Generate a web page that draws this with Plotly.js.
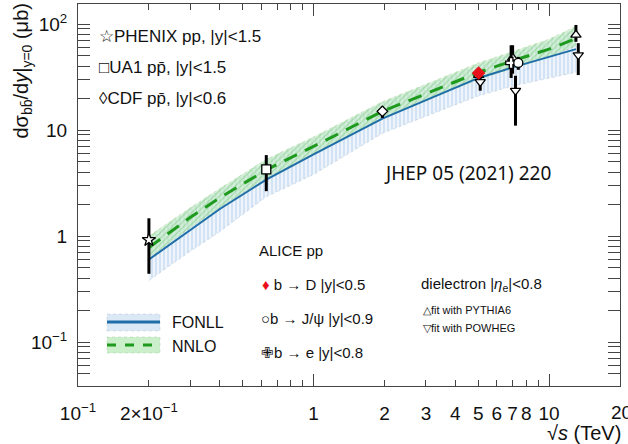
<!DOCTYPE html>
<html>
<head>
<meta charset="utf-8">
<script src="https://cdn.plot.ly/plotly-3.0.1.min.js"></script>
<style>html,body{margin:0;padding:0;background:#fff;}#chart{width:628px;height:444px;}</style>
</head>
<body>
<div id="chart"></div>
<script>
// ---- theory curves (sqrt(s) in TeV, dsigma/dy in microbarn) ----
const curveX   = [0.2, 0.3, 0.4, 0.63, 1.0, 1.96, 3.0, 5.02, 7.0, 10.0, 13.0];
const nnloC    = [0.78, 1.5, 2.3, 4.2, 7.0, 15.0, 22.0, 35.0, 45.0, 58.0, 73.0];
const nnloLo   = [0.62, 1.2, 1.85, 3.5, 5.9, 12.8, 19.0, 30.0, 38.0, 49.0, 62.0];
const nnloHi   = [1.0, 1.85, 2.8, 5.3, 8.6, 18.5, 27.0, 43.0, 55.0, 72.0, 95.0];
const fonllC   = [0.6, 1.15, 1.8, 3.4, 5.9, 12.8, 19.0, 31.0, 39.0, 49.0, 58.0];
const fonllLo  = [0.38, 0.72, 1.1, 2.35, 3.8, 9.3, 13.5, 21.0, 26.0, 31.0, 35.0];
const fonllHi  = [0.95, 1.8, 2.7, 5.1, 8.3, 18.0, 26.0, 41.0, 53.0, 69.0, 90.0];

// ---- measurements ----
const phenixX = [0.2],  phenixY = [0.92], phenixUp = [0.55], phenixDn = [0.48];
const ua1X = [0.63],    ua1Y = [4.25],    ua1Up = [1.55],    ua1Dn = [1.6];
const cdfX = [1.96],    cdfY = [15.0],    cdfUp = [1.7],     cdfDn = [2.0];
const bdX = [5.02],     bdY = [34.5],     bdUp = [2.5],      bdDn = [2.5];
const jpsiX = [7.4],    jpsiY = [43.0],   jpsiUp = [6.0],    jpsiDn = [6.0];
const beX = [6.9],      beY = [43.0],     beUp = [20.0],     beDn = [12.0];
const pythiaX = [5.02, 7.0, 13.0], pythiaY = [33.0, 48.0, 79.0], pythiaUp = [3.0, 15.0, 19.0], pythiaDn = [3.0, 14.0, 11.0];
const powhegX = [5.1, 7.2, 13.3],  powhegY = [28.5, 23.5, 51.0], powhegUp = [4.0, 9.0, 15.0],  powhegDn = [5.0, 12.5, 18.0];

// ---- axis ticks ----
const xTickVals = [0.1, 0.2, 1, 2, 3, 4, 5, 6, 7, 8, 10];
const xTickText = ['10<sup>−1</sup>', '2×10<sup>−1</sup>', '1', '2', '3', '4', '5', '6', '7', '8', '10'];
const xEdgeLabel = '20';
const xMinorVals = [0.3, 0.4, 0.5, 0.6, 0.7, 0.8, 0.9, 9, 20];
const xDecades = [0.1, 1, 10];
const yTickVals = [0.1, 1, 10, 100];
const yTickText = ['10<sup>−1</sup>', '1', '10', '10<sup>2</sup>'];
const yMinorVals = [0.05,0.06,0.07,0.08,0.09,0.2,0.3,0.4,0.5,0.6,0.7,0.8,0.9,2,3,4,5,6,7,8,9,20,30,40,50,60,70,80,90,200];

// pixel -> paper helpers (plot area 78..620 x, 4..386 y)
const P = x => (x - 78) / 542;
const Q = y => (386 - y) / 382;

function band(lo, hi, pat) {
  return [
    {x: curveX, y: lo, mode: 'lines', line: {width: 0.6, color: pat.edge, dash: 'dot'}, hoverinfo: 'skip', showlegend: false},
    {x: curveX, y: hi, mode: 'lines', fill: 'tonexty', fillcolor: pat.bg,
     fillpattern: {shape: pat.shape, fgcolor: pat.fg, bgcolor: pat.bg, size: 4, solidity: 0.3},
     line: {width: 0.6, color: pat.edge, dash: 'dot'}, hoverinfo: 'skip', showlegend: false}
  ];
}
function pts(x, y, up, dn, symbol, color, size) {
  return {x: x, y: y, mode: 'markers', type: 'scatter', showlegend: false, hoverinfo: 'skip',
    marker: {symbol: symbol, size: size, color: color, line: {color: color === 'white' ? 'black' : color, width: 1.3}},
    error_y: {type: 'data', symmetric: false, array: up, arrayminus: dn, thickness: 3, width: 0, color: 'black'}};
}

const data = [].concat(
  band(fonllLo, fonllHi, {shape: '|', fg: 'rgba(160,195,230,0.55)', bg: 'rgba(225,236,248,0.6)', edge: 'rgba(150,170,200,0.6)'}),
  band(nnloLo, nnloHi, {shape: '/', fg: 'rgba(120,200,120,0.5)', bg: 'rgba(190,235,190,0.55)', edge: 'rgba(140,190,140,0.6)'}),
  [
    {x: curveX, y: fonllC, mode: 'lines', line: {color: '#1f6ea8', width: 2}, hoverinfo: 'skip', showlegend: false},
    {x: curveX, y: nnloC, mode: 'lines', line: {color: '#1e9a1e', width: 3, dash: '14px,9px'}, hoverinfo: 'skip', showlegend: false},
    pts(phenixX, phenixY, phenixUp, phenixDn, 'star', 'white', 10),
    pts(ua1X, ua1Y, ua1Up, ua1Dn, 'square', 'white', 9),
    pts(cdfX, cdfY, cdfUp, cdfDn, 'diamond', 'white', 8),
    pts(pythiaX, pythiaY, pythiaUp, pythiaDn, 'triangle-up', 'white', 9),
    pts(powhegX, powhegY, powhegUp, powhegDn, 'triangle-down', 'white', 9),
    pts(beX, beY, beUp, beDn, 'cross', 'white', 9),
    pts(jpsiX, jpsiY, jpsiUp, jpsiDn, 'circle', 'white', 9),
    pts(bdX, bdY, bdUp, bdDn, 'diamond', '#e8101a', 9),
    {x: [1], y: [1], xaxis: 'x2', yaxis: 'y', mode: 'markers', marker: {opacity: 0}, hoverinfo: 'skip', showlegend: false}
  ]
);

const axFont = {family: 'Liberation Sans, Arial, sans-serif', size: 19, color: '#111'};
const xr = [Math.log10(0.1), Math.log10(20)];
const yr = [-1.415, 2.189];

const ann = [];
function txt(x, y, text, size, extra) {
  ann.push(Object.assign({xref: 'paper', yref: 'paper', x: P(x), y: Q(y), text: text, showarrow: false,
    xanchor: 'left', yanchor: 'middle', font: {family: 'Liberation Sans, Arial, sans-serif', size: size, color: '#111'}}, extra || {}));
}
txt(97, 37, '☆PHENIX pp, |y|<1.5', 17);
txt(97, 68, '□UA1 pp̄, |y|<1.5', 17);
txt(97, 98, '◊CDF pp̄, |y|<0.6', 17);
txt(382, 173, 'JHEP 05 (2021) 220', 20, {font: {family: 'Noto Sans, sans-serif', size: 19, color: '#111'}});
txt(257, 250, 'ALICE pp', 15);
txt(260, 284, '<span style="color:#e8101a">♦</span> b → D |y|<0.5', 15);
txt(259, 318, '○b → J/ψ |y|<0.9', 15);
txt(259, 352, '✙b → e |y|<0.8', 15);
txt(419, 284, 'dielectron |<i>η</i><sub>e</sub>|<0.8', 15);
txt(421, 310, '△fit with PYTHIA6', 11);
txt(421, 328, '▽fit with POWHEG', 11);
txt(170, 322, 'FONLL', 16);
txt(170, 346, 'NNLO', 16);
// clipped edge tick label at sqrt(s)=20
txt(609, 412, xEdgeLabel, 19);
// axis titles
ann.push({xref: 'paper', yref: 'paper', x: 1.005, y: Q(433), text: '√<i>s</i> (TeV)', showarrow: false,
  xanchor: 'right', yanchor: 'middle', font: {family: 'Liberation Sans, Arial, sans-serif', size: 20, color: '#111'}});
ann.push({xref: 'paper', yref: 'paper', x: P(22), y: Q(2), text: 'dσ<sub>bb̄</sub>/d<i>y</i>|<sub>y=0</sub> (μb)', showarrow: false,
  textangle: -90, xanchor: 'center', yanchor: 'top', font: {family: 'Liberation Sans, Arial, sans-serif', size: 20, color: '#111'}});

const shapes = [
  {type: 'rect', xref: 'paper', yref: 'paper', x0: P(107), x1: P(160), y0: Q(331), y1: Q(314), fillcolor: 'rgba(215,230,245,0.9)', line: {width: 0.5, color: 'rgba(170,190,215,0.8)', dash: 'dot'}},
  {type: 'line', xref: 'paper', yref: 'paper', x0: P(107), x1: P(160), y0: Q(322), y1: Q(322), line: {color: '#1f6ea8', width: 3}},
  {type: 'rect', xref: 'paper', yref: 'paper', x0: P(107), x1: P(160), y0: Q(353), y1: Q(337), fillcolor: 'rgba(190,235,190,0.8)', line: {width: 0.5, color: 'rgba(150,200,150,0.8)', dash: 'dot'}},
  {type: 'line', xref: 'paper', yref: 'paper', x0: P(107), x1: P(160), y0: Q(345), y1: Q(345), line: {color: '#1e9a1e', width: 3, dash: 'dash'}}
];

const layout = {
  width: 628, height: 444,
  margin: {l: 78, r: 8, t: 4, b: 58},
  paper_bgcolor: '#fff', plot_bgcolor: '#fff',
  showlegend: false,
  xaxis: {type: 'log', range: xr, tickmode: 'array', tickvals: xTickVals, ticktext: xTickText,
    ticks: 'inside', ticklen: 6, tickwidth: 1, tickcolor: '#444', showline: true, linecolor: '#444', linewidth: 1,
    mirror: 'allticks', showgrid: false, zeroline: false, tickfont: axFont, ticklabelstandoff: 10,
    minor: {tickmode: 'array', tickvals: xMinorVals, ticks: 'inside', ticklen: 6, tickcolor: '#444', showgrid: false}},
  xaxis2: {type: 'log', range: xr, overlaying: 'x', anchor: 'y', side: 'bottom', tickmode: 'array', tickvals: xDecades,
    ticks: 'inside', ticklen: 12, tickcolor: '#444', showticklabels: false, showgrid: false, zeroline: false,
    showline: false, mirror: 'allticks'},
  yaxis: {type: 'log', range: yr, tickmode: 'array', tickvals: yTickVals, ticktext: yTickText,
    ticks: 'inside', ticklen: 12, tickwidth: 1, tickcolor: '#444', showline: true, linecolor: '#444', linewidth: 1,
    mirror: 'allticks', showgrid: false, zeroline: false, tickfont: axFont, ticklabelstandoff: 6,
    minor: {tickmode: 'array', tickvals: yMinorVals, ticks: 'inside', ticklen: 6, tickcolor: '#444', showgrid: false}},
  annotations: ann,
  shapes: shapes
};

Plotly.newPlot('chart', data, layout, {displayModeBar: false, staticPlot: true});
</script>
</body>
</html>
